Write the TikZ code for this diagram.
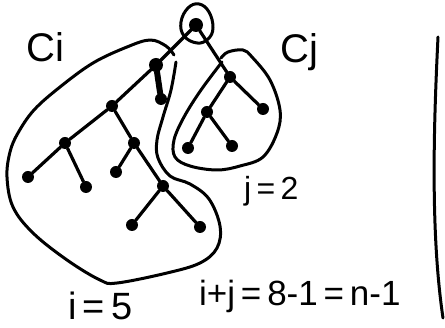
\documentclass[tikz,border=0pt]{standalone}
\usepackage{fontspec}
\setmainfont{Liberation Sans}
\begin{document}
\begin{tikzpicture}[x=1pt,y=-1pt,
  dot/.style={circle,fill=black,inner sep=0pt,minimum size=12pt},
  bigdot/.style={circle,fill=black,inner sep=0pt,minimum size=14pt},
  edge/.style={line width=3.2pt,line cap=round},
  outline/.style={line width=3pt,line join=round,line cap=round},
  lbl/.style={inner sep=0pt,anchor=base west,font=\fontsize{38}{42}\selectfont}]
\useasboundingbox[fill=white] (0,0) rectangle (445,328);
% nodes
\node[bigdot] (r) at (196,25) {};
\node[bigdot] (a) at (156,65) {};
\node[dot] (a1) at (161,99) {};
\node[dot] (b) at (112,106) {};
\node[dot] (c) at (65,143) {};
\node[dot] (c1) at (28,177) {};
\node[dot] (c2) at (86,187) {};
\node[dot] (d) at (134,143) {};
\node[dot] (d1) at (116,172) {};
\node[dot] (e) at (163,186) {};
\node[dot] (e1) at (132,225) {};
\node[dot] (e2) at (200,227) {};
\node[dot] (f) at (230,77) {};
\node[dot] (f1) at (263,109) {};
\node[dot] (g) at (207,112) {};
\node[dot] (g1) at (188,148) {};
\node[dot] (g2) at (232,146) {};
% edges
\draw[edge] (r) -- (a);
\draw[edge] (r) -- (f);
\draw[edge,line width=6pt] (a) -- (a1);
\draw[edge] (a) -- (b);
\draw[edge] (b) -- (c);
\draw[edge] (c) -- (c1);
\draw[edge] (c) -- (c2);
\draw[edge] (b) -- (d);
\draw[edge] (d) -- (d1);
\draw[edge] (d) -- (e);
\draw[edge] (e) -- (e1);
\draw[edge] (e) -- (e2);
\draw[edge] (f) -- (f1);
\draw[edge] (f) -- (g);
\draw[edge] (g) -- (g1);
\draw[edge] (g) -- (g2);
% root loop
\draw[outline] plot[smooth cycle,tension=0.7] coordinates {(197,43) (184,36) (181,22) (188,8) (199,4) (209,12) (213,28) (208,39)};
% Ci outline
\draw[outline] plot[smooth,tension=0.6] coordinates {(176,62) (171,90) (163,117) (157,140) (158,158) (170,176) (190,184) (209,199) (220,226) (217,248) (200,263) (167,273) (117,283) (100,280) (67,260) (33,233) (13,207) (7,177) (10,152) (18,133) (34,110) (60,87) (93,63) (127,47) (150,40) (166,46) (174,55)};
% Cj outline
\draw[outline] plot[smooth,tension=0.6] coordinates {(222,62) (201,90) (184,117) (174,140) (175,157) (190,166) (217,170) (240,166) (263,157) (277,133) (280,110) (270,80) (252,57) (243,50) (228,52) (221,58)};
% right line
\draw[outline] (438,37) .. controls (434,120) and (430,230) .. (443,318);
% labels
\node[lbl,font=\fontsize{40}{44}\selectfont] (ci) at (26,62) {Ci};
\node[lbl,font=\fontsize{40}{44}\selectfont] (cj) at (280,63) {Cj};
\node[lbl,font=\fontsize{32}{36}\selectfont] (jv) at (244,200) {j\,=\,2};
\node[lbl] (iv) at (68,320) {i\,=\,5};
\node[lbl,font=\fontsize{35}{39}\selectfont] (sum) at (199,306) {i+j\,=\,8-1\,=\,n-1};
\end{tikzpicture}
\end{document}
